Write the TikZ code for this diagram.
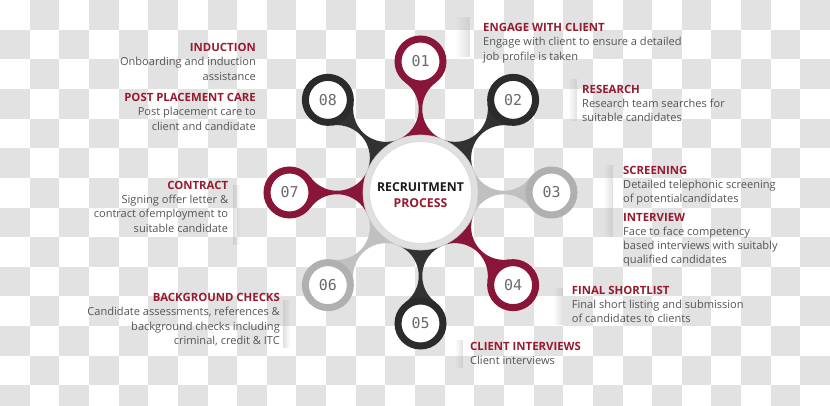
\documentclass[tikz,border=0pt]{standalone}
\usepackage{fontspec}
\setmainfont{Open Sans}
\newfontfamily\numfont{DejaVu Sans Mono}
\usetikzlibrary{positioning}
\usetikzlibrary{fadings}
\definecolor{maroon}{RGB}{137,22,57}
\definecolor{darkring}{RGB}{43,43,43}
\definecolor{darkstem}{RGB}{50,50,50}
\definecolor{lightring}{RGB}{176,176,176}
\definecolor{lightstem}{RGB}{192,192,192}
\definecolor{headred}{RGB}{152,26,46}
\definecolor{bodygray}{RGB}{85,85,85}
\definecolor{numgray}{RGB}{105,105,105}
\definecolor{checker}{RGB}{226,226,226}
\definecolor{hubring}{RGB}{224,224,224}
\tikzfading[name=fade right, left color=transparent!0, right color=transparent!100]
\tikzfading[name=fade left, left color=transparent!100, right color=transparent!0]
\newcommand\steptitle[1]{{\fontsize{11.4}{14.3}\selectfont\bfseries\color{headred}#1}}
\tikzset{
  satring/.style={circle, minimum size=45bp, inner sep=0pt, line width=7bp, draw=#1, fill=white, text=numgray, font=\numfont\fontsize{15}{15}\selectfont},
  desc/.style={inner sep=0pt, text=bodygray, font=\fontsize{11.1}{14.3}\selectfont},
  curl/.style={fill=black!30, opacity=0.4}
}

\begin{document}
\begin{tikzpicture}[x=1bp, y=1bp]
\useasboundingbox (0,0) rectangle (830,405);
% checker background
\begin{scope}
  \clip (0,0) rectangle (830,405);
  \foreach \r in {0,...,13}{
    \foreach \c in {0,...,27}{
      \pgfmathtruncatemacro\odd{mod(\r+\c,2)}
      \ifnum\odd=1 \fill[checker] (\c*29.643, 405-\r*29.643) rectangle ++(29.643,-29.643); \fi
    }
  }
\end{scope}
\coordinate (c) at (420.5,212.5);
% stems
\foreach \a/\col in {90/maroon,45/darkstem,0/lightstem,-45/maroon,-90/darkstem,-135/lightstem,180/maroon,135/darkstem}{
  \begin{scope}[shift={(c)}, rotate=\a]
    \fill[\col] (0,0) -- (53.13,-22.01) arc[start angle=157.5, end angle=36, radius=32.8bp]
      -- (131,0) -- (109.97,15.28) arc[start angle=-36, end angle=-157.5, radius=32.8bp] -- cycle;
  \end{scope}
}
% hub
\node[circle, minimum size=108.5bp, line width=6.5bp, draw=hubring, fill=white, inner sep=0pt] (hub) at (c) {};
\draw[black!20, line width=0.6bp] (hub.center) circle[radius=57.5bp];
\draw[black!14, line width=0.8bp] (hub.center) circle[radius=51bp];
\node[align=center, font=\fontsize{12.3}{16}\selectfont\bfseries, text=black!90] (title) at ([yshift=-2.5]hub.center) {RECRUITMENT\\\textcolor{headred}{PROCESS}};
% satellites
\node[satring=maroon] (s01) at ([shift={(90:131)}]c) {01};
\node[satring=darkring] (s02) at ([shift={(45:131)}]c) {02};
\node[satring=lightring] (s03) at ([shift={(0:131)}]c) {03};
\node[satring=maroon] (s04) at ([shift={(-45:131)}]c) {04};
\node[satring=darkring] (s05) at ([shift={(-90:131)}]c) {05};
\node[satring=lightring] (s06) at ([shift={(-135:131)}]c) {06};
\node[satring=maroon] (s07) at ([shift={(180:131)}]c) {07};
\node[satring=darkring] (s08) at ([shift={(135:131)}]c) {08};
% shadows next to texts
\fill[curl, path fading=fade left] (455,388) rectangle (470,348);
\fill[curl, path fading=fade left] (568,326) rectangle (577,284);
\fill[curl, path fading=fade left] (603,240) rectangle (613,168);
\fill[curl, path fading=fade left] (553,117) rectangle (563,80);
\fill[curl, path fading=fade left] (455,65) rectangle (463,37);
\fill[curl, path fading=fade right] (283,105) rectangle (290,57);
\fill[curl, path fading=fade right] (233,220) rectangle (240,160);
% texts
\node[desc, anchor=north west, align=left] (engage) at (483,381.7) {\steptitle{ENGAGE WITH CLIENT}\\Engage with client to ensure a detailed\\job profile is taken};
\node[desc, anchor=north west, align=left] (research) at (582,320) {\steptitle{RESEARCH}\\Research team searches for\\suitable candidates};
\node[desc, anchor=north west, align=left] (screening) at (623,239) {\steptitle{SCREENING}\\Detailed telephonic screening\\of potentialcandidates};
\node[desc, anchor=north west, align=left] (interview) at (623,192.3) {\steptitle{INTERVIEW}\\Face to face competency\\based interviews with suitably\\qualified candidates};
\node[desc, anchor=north west, align=left] (shortlist) at (571.7,119) {\steptitle{FINAL SHORTLIST}\\Final short listing and submission\\of candidates to clients};
\node[desc, anchor=north west, align=left] (clientint) at (470,63.3) {\steptitle{CLIENT INTERVIEWS}\\Client interviews};
\node[desc, anchor=north east, align=right] (induction) at (256,361.7) {\steptitle{INDUCTION}\\Onboarding and induction\hspace*{3bp}\\assistance};
\node[desc, anchor=north east, align=right] (postcare) at (256,311.7) {\steptitle{POST PLACEMENT CARE}\\Post placement care to\\client and candidate};
\node[desc, anchor=north east, align=right] (contract) at (228.3,224) {\steptitle{CONTRACT}\\Signing offer letter \&\\contract ofemployment to\\suitable candidate};
\node[desc, anchor=north east, align=right] (background) at (280,111.7) {\steptitle{BACKGROUND CHECKS}\\Candidate assessments, references \&\hspace*{3bp}\\background checks including\hspace*{3bp}\\criminal, credit \& ITC};
\end{tikzpicture}
\end{document}
